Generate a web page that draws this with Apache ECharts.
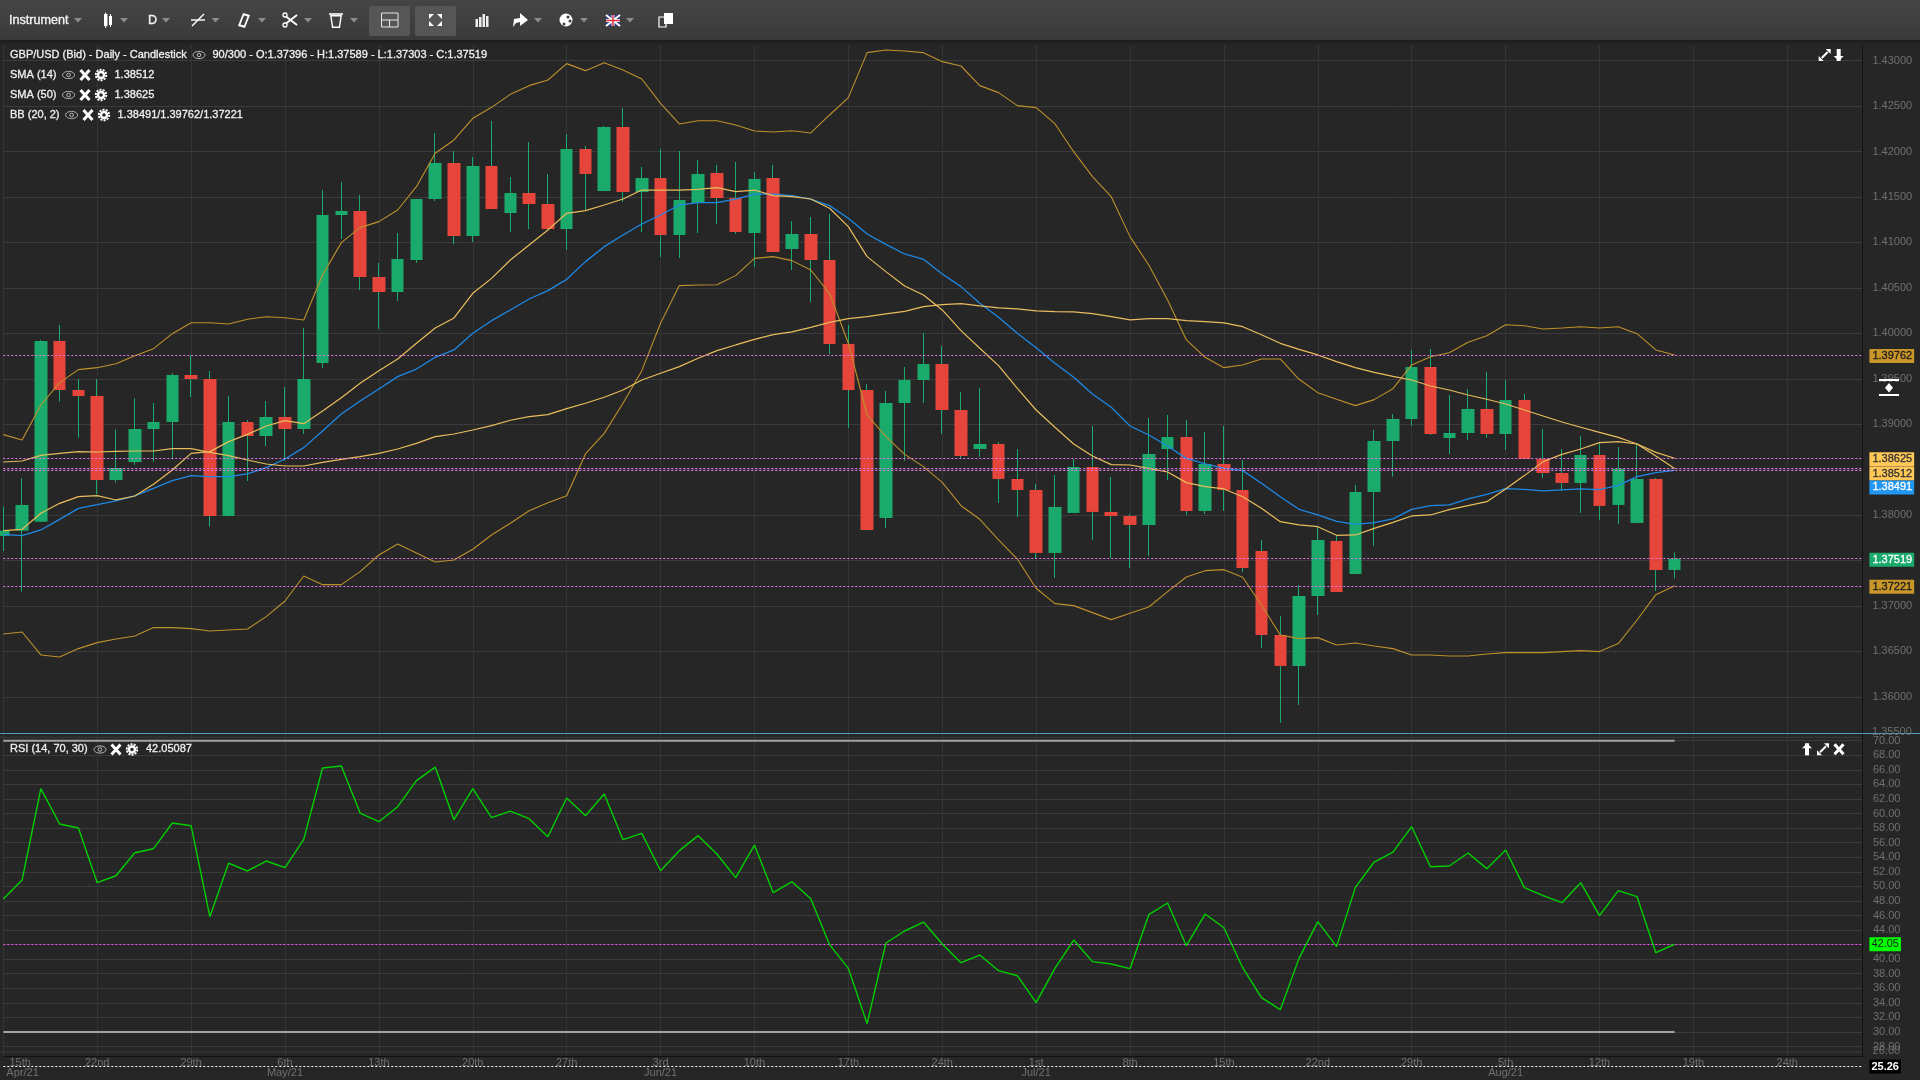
<!DOCTYPE html>
<html><head><meta charset="utf-8">
<style>html,body{margin:0;padding:0;background:#262626;overflow:hidden}#c{width:1920px;height:1080px}</style>
<script src="https://cdn.jsdelivr.net/npm/echarts@6/dist/echarts.min.js"></script>
</head><body><div id="c"></div>
<script>
const opens=[1.37770,1.37828,1.37927,1.39916,1.39376,1.39310,1.38386,1.38584,1.38947,1.39024,1.39541,1.39497,1.37990,1.39024,1.38870,1.39079,1.38947,1.39674,1.41302,1.41346,1.40620,1.40455,1.40807,1.41478,1.41875,1.41071,1.41842,1.41324,1.41544,1.41423,1.41148,1.42029,1.41566,1.42271,1.41555,1.41709,1.41082,1.41434,1.41765,1.41489,1.41104,1.41709,1.40928,1.41093,1.40807,1.39883,1.39376,1.37968,1.39233,1.39486,1.39662,1.39156,1.38727,1.38782,1.38397,1.38276,1.37583,1.38023,1.38529,1.38034,1.37990,1.37891,1.38727,1.38859,1.38045,1.38562,1.38276,1.37604,1.36680,1.36339,1.37109,1.37715,1.37351,1.38254,1.38815,1.39057,1.39629,1.38848,1.38903,1.39167,1.38892,1.39266,1.38617,1.38463,1.38353,1.38661,1.38111,1.37913,1.38397,1.37396];
const closes=[1.37828,1.38111,1.39916,1.39376,1.39310,1.38386,1.38518,1.38947,1.39024,1.39541,1.39497,1.37990,1.39024,1.38870,1.39079,1.38947,1.39497,1.41302,1.41346,1.40620,1.40455,1.40818,1.41478,1.41875,1.41071,1.41842,1.41368,1.41544,1.41423,1.41148,1.42029,1.41754,1.42271,1.41555,1.41709,1.41082,1.41467,1.41754,1.41489,1.41115,1.41699,1.40895,1.41093,1.40807,1.39883,1.39376,1.37836,1.39233,1.39486,1.39662,1.39156,1.38650,1.38782,1.38397,1.38276,1.37583,1.38089,1.38529,1.38034,1.37990,1.37891,1.38672,1.38859,1.38045,1.38562,1.38276,1.37417,1.36680,1.36339,1.37109,1.37726,1.37153,1.38254,1.38815,1.39057,1.39629,1.38892,1.38903,1.39167,1.38892,1.39266,1.38617,1.38463,1.38353,1.38661,1.38100,1.38507,1.38397,1.37395,1.37519];
const highs=[1.38092,1.38404,1.39927,1.40092,1.39497,1.39497,1.38943,1.39285,1.39233,1.39560,1.39762,1.39585,1.39310,1.39046,1.39255,1.39409,1.40059,1.41577,1.41666,1.41522,1.40774,1.41104,1.41478,1.42205,1.42007,1.41941,1.42337,1.41720,1.42106,1.41754,1.42194,1.42062,1.42282,1.42480,1.41831,1.42029,1.42007,1.41908,1.41853,1.41886,1.41776,1.41853,1.41236,1.41280,1.41313,1.40092,1.39442,1.39365,1.39629,1.40004,1.39861,1.39354,1.39398,1.38804,1.38727,1.38342,1.38441,1.38617,1.38980,1.38419,1.38012,1.39068,1.39101,1.39046,1.38914,1.38980,1.38606,1.37726,1.36889,1.37230,1.37869,1.37781,1.38331,1.38936,1.39112,1.39817,1.39828,1.39321,1.39387,1.39574,1.39486,1.39332,1.38947,1.38727,1.38870,1.38793,1.38749,1.38793,1.38408,1.37589];
const lows=[1.37604,1.37157,1.37924,1.39248,1.38852,1.38228,1.38357,1.38551,1.38588,1.38613,1.39299,1.37872,1.37985,1.38375,1.38760,1.38595,1.38892,1.39618,1.41038,1.40477,1.40048,1.40356,1.40774,1.41456,1.40983,1.41005,1.41368,1.41115,1.41148,1.41137,1.40917,1.41357,1.41566,1.41445,1.41115,1.40840,1.40829,1.41104,1.41203,1.41093,1.40730,1.40895,1.40697,1.40345,1.39773,1.38958,1.37830,1.37858,1.38595,1.39233,1.38892,1.38617,1.38639,1.38133,1.37979,1.37516,1.37307,1.38020,1.37726,1.37527,1.37417,1.37549,1.38386,1.38001,1.38012,1.38045,1.37373,1.36537,1.35712,1.35910,1.36900,1.37150,1.37348,1.37660,1.38423,1.38980,1.38881,1.38672,1.38826,1.38848,1.38716,1.38614,1.38408,1.38265,1.38023,1.37946,1.37902,1.37910,1.37164,1.37303];
const bbUpper=[1.38885,1.38826,1.39211,1.39457,1.39600,1.39622,1.39666,1.39754,1.39831,1.39996,1.40117,1.40117,1.40103,1.40154,1.40183,1.40172,1.40147,1.40642,1.40998,1.41163,1.41229,1.41357,1.41614,1.41981,1.42128,1.42366,1.42487,1.42630,1.42726,1.42788,1.42968,1.42891,1.42979,1.42898,1.42799,1.42531,1.42304,1.42340,1.42340,1.42293,1.42227,1.42216,1.42230,1.42205,1.42403,1.42594,1.43089,1.43118,1.43107,1.43089,1.42990,1.42942,1.42726,1.42649,1.42506,1.42484,1.42307,1.41999,1.41724,1.41504,1.41064,1.40752,1.40367,1.39927,1.39736,1.39622,1.39652,1.39718,1.39718,1.39494,1.39347,1.39274,1.39204,1.39270,1.39391,1.39652,1.39743,1.39787,1.39901,1.39974,1.40095,1.40084,1.40048,1.40059,1.40073,1.40059,1.40073,1.39996,1.39817,1.39762];
const bbLower=[1.36691,1.36713,1.36460,1.36438,1.36530,1.36596,1.36636,1.36669,1.36761,1.36761,1.36750,1.36724,1.36735,1.36746,1.36882,1.37054,1.37329,1.37234,1.37234,1.37377,1.37560,1.37682,1.37583,1.37483,1.37505,1.37623,1.37781,1.37909,1.38048,1.38136,1.38213,1.38672,1.38899,1.39230,1.39589,1.40110,1.40525,1.40532,1.40535,1.40635,1.40825,1.40844,1.40800,1.40697,1.40440,1.39890,1.39101,1.38863,1.38668,1.38533,1.38360,1.38103,1.37953,1.37726,1.37516,1.37194,1.37025,1.37003,1.36926,1.36849,1.36919,1.36988,1.37157,1.37318,1.37388,1.37399,1.37315,1.37010,1.36680,1.36640,1.36651,1.36570,1.36592,1.36559,1.36530,1.36460,1.36460,1.36449,1.36449,1.36471,1.36486,1.36486,1.36486,1.36497,1.36508,1.36497,1.36585,1.36845,1.37124,1.37221];
const bbMid=[1.37788,1.37773,1.37836,1.37953,1.38074,1.38114,1.38155,1.38210,1.38294,1.38379,1.38434,1.38423,1.38423,1.38452,1.38522,1.38617,1.38742,1.38925,1.39112,1.39255,1.39387,1.39523,1.39607,1.39736,1.39817,1.40000,1.40139,1.40257,1.40378,1.40470,1.40594,1.40789,1.40954,1.41082,1.41203,1.41302,1.41412,1.41438,1.41438,1.41478,1.41533,1.41533,1.41515,1.41478,1.41405,1.41266,1.41093,1.40979,1.40873,1.40814,1.40653,1.40514,1.40330,1.40176,1.40000,1.39842,1.39670,1.39516,1.39332,1.39186,1.38980,1.38881,1.38760,1.38624,1.38562,1.38514,1.38489,1.38349,1.38202,1.38063,1.38001,1.37931,1.37898,1.37916,1.37957,1.38063,1.38103,1.38111,1.38177,1.38228,1.38291,1.38283,1.38265,1.38276,1.38287,1.38280,1.38327,1.38423,1.38467,1.38491];
const sma14=[1.37828,1.37843,1.38019,1.38129,1.38202,1.38213,1.38166,1.38210,1.38338,1.38496,1.38679,1.38698,1.38808,1.38888,1.38980,1.39039,1.39006,1.39145,1.39292,1.39450,1.39589,1.39718,1.39890,1.40059,1.40169,1.40440,1.40605,1.40807,1.40972,1.41137,1.41321,1.41350,1.41412,1.41478,1.41577,1.41577,1.41577,1.41585,1.41603,1.41559,1.41577,1.41515,1.41504,1.41478,1.41376,1.41174,1.40844,1.40679,1.40521,1.40422,1.40257,1.40029,1.39835,1.39644,1.39395,1.39156,1.38966,1.38782,1.38650,1.38555,1.38551,1.38514,1.38474,1.38357,1.38313,1.38287,1.38202,1.38074,1.37927,1.37891,1.37872,1.37777,1.37781,1.37854,1.37920,1.37990,1.38001,1.38059,1.38103,1.38147,1.38287,1.38434,1.38588,1.38668,1.38727,1.38797,1.38808,1.38782,1.38650,1.38512];
const sma50=[1.38584,1.38595,1.38657,1.38679,1.38698,1.38694,1.38701,1.38705,1.38705,1.38731,1.38731,1.38690,1.38654,1.38606,1.38562,1.38540,1.38540,1.38580,1.38613,1.38643,1.38679,1.38727,1.38789,1.38863,1.38892,1.38936,1.38984,1.39043,1.39083,1.39105,1.39171,1.39230,1.39296,1.39376,1.39486,1.39560,1.39633,1.39725,1.39809,1.39872,1.39934,1.39985,1.40015,1.40066,1.40121,1.40161,1.40183,1.40213,1.40242,1.40293,1.40315,1.40326,1.40301,1.40279,1.40268,1.40246,1.40238,1.40235,1.40216,1.40183,1.40147,1.40161,1.40161,1.40139,1.40128,1.40114,1.40073,1.39985,1.39890,1.39824,1.39762,1.39688,1.39622,1.39571,1.39527,1.39486,1.39420,1.39376,1.39321,1.39274,1.39222,1.39156,1.39090,1.39024,1.38966,1.38910,1.38855,1.38782,1.38690,1.38625];
const rsi=[48.26,50.87,63.41,58.56,58.01,50.50,51.46,54.62,55.17,58.70,58.33,45.84,53.20,52.11,53.48,52.56,56.45,66.25,66.52,60.07,58.88,60.94,64.51,66.38,59.15,63.41,59.43,60.34,59.29,56.82,62.13,59.70,62.68,56.41,57.28,52.15,54.90,56.96,54.44,51.19,55.67,49.13,50.64,48.31,41.99,38.74,31.14,42.22,43.87,45.10,42.08,39.52,40.57,38.42,37.73,34.03,38.74,42.63,39.66,39.34,38.70,46.11,47.71,41.85,46.20,44.32,38.83,34.71,33.07,40.11,45.15,41.72,49.86,53.34,54.71,58.19,52.70,52.79,54.58,52.43,54.99,49.82,48.72,47.76,50.50,45.97,49.41,48.58,40.89,42.05];
const tickLabels=['15th','22nd','29th','6th','13th','20th','27th','3rd','10th','17th','24th','1st','8th','15th','22nd','29th','5th','12th','19th','24th'];
const monthLabels=[' Apr/21','','','May/21','','','','Jun/21','','','','Jul/21','','','','','Aug/21','','',''];
const priceLevels=[1.39762,1.38625,1.38512,1.38491,1.37519,1.37221];
const rsiLevel=42.05, crossLevel=25.26, rsiBounds=[70,30];
const slotCount=100;

const FONT='"Liberation Sans",Arial,sans-serif';
const slots=Array.from({length:slotCount},(_,i)=>String(i));
const BG='#262626',GRID_H='#3b3b3b',GRID_V='#343434',GREEN='#1aaa6b',RED='#e5453b',GOLD='#c9962a',LIGHT='#ffc857',BLUE='#2196f3',MAG='#e477ee',TICK='#707070';
const L=3.3,W=1859.1;
const P_TOP=15.3,P_H=726.9,R_TOP=740.7,R_H=335;

const wicks=opens.map((o,i)=>[o,closes[i],lows[i],highs[i]]);
const bodies=opens.map((o,i)=>[o,closes[i],Math.min(o,closes[i]),Math.max(o,closes[i])]);
const priceTicks=Array.from({length:17});

function xLabel(v){const i=+v,n=i/5;if(!Number.isInteger(n)||!tickLabels[n])return '';let t=(i===0?'  ':'')+tickLabels[n];return monthLabels[n]?t+'\n'+monthLabels[n]:t;}
const line=(name,data,color,width,z)=>({name,type:'line',data,xAxisIndex:0,yAxisIndex:0,showSymbol:false,symbol:'none',silent:true,z:z||4,lineStyle:{color,width}});
const lvlStyle=(bg,fg,offY)=>({show:true,position:'end',distance:7,backgroundColor:bg,color:fg,padding:[2,2,1,3],fontSize:11,fontFamily:FONT,textBorderColor:fg,textBorderWidth:0.3,offset:[0,offY||0],formatter:p=>(+p.value).toFixed(5)});
const priceStyles=[[GOLD,'#1b1b1b',1],[LIGHT,'#333',1],[LIGHT,'#333',5],[BLUE,'#fff',17],[GREEN,'#fff',1],[GOLD,'#1b1b1b',1]];

/* chrome */
const els=[];
const Z=100;
function rect(x,y,w,h,fill,z,extra){els.push({type:'rect',z:z||Z,silent:true,shape:Object.assign({x,y,width:w,height:h},extra||{}),style:{fill}});}
function seg(x1,y1,x2,y2,stroke,lw,z){els.push({type:'line',z:z||Z,silent:true,shape:{x1,y1,x2,y2},style:{stroke,lineWidth:lw||1}});}
function poly(pts,fill,z){els.push({type:'polygon',z:z||Z,silent:true,shape:{points:pts},style:{fill}});}
function outline(x,y,w,h,stroke,lw){els.push({type:'rect',z:Z,silent:true,shape:{x,y,width:w,height:h},style:{fill:'none',stroke,lineWidth:lw||1.5}});}
function txt(x,y,t,fill,size,z,heavy){els.push({type:'text',z:z||Z,silent:true,x,y,style:{text:t,fill,font:(size||11)+'px '+FONT,verticalAlign:'middle',align:'left',stroke:heavy?fill:null,lineWidth:heavy||0}});}
function circ(cx,cy,r,fill,stroke,lw,dash){els.push({type:'circle',z:Z,silent:true,shape:{cx,cy,r},style:{fill:fill||'none',stroke:stroke||null,lineWidth:lw||1,lineDash:dash||null}});}
function tri(cx){poly([[cx-4,18],[cx+4,18],[cx,22.5]],'#8c8c8c');}
function eye(cx,cy){els.push({type:'ellipse',z:Z,silent:true,shape:{cx,cy,rx:6,ry:3.6},style:{fill:'none',stroke:'#bdbdbd',lineWidth:1}});circ(cx,cy,1.8,'none','#bdbdbd',1);}
function cross(cx,cy){seg(cx-4.5,cy-5,cx+4.5,cy+5,'#fff',3);seg(cx+4.5,cy-5,cx-4.5,cy+5,'#fff',3);}
function gear(cx,cy){circ(cx,cy,5.2,'none','#fff',2,[2,1.2]);circ(cx,cy,3,'none','#fff',2.4);}
function expand(cx,cy){poly([[cx+1,cy-6],[cx+6,cy-6],[cx+6,cy-1]],'#fff');poly([[cx-1,cy+6],[cx-6,cy+6],[cx-6,cy+1]],'#fff');seg(cx-3,cy+3,cx+3,cy-3,'#fff',2);}
function arrow(cx,cy,up){const s=up?-1:1;poly([[cx-5,cy+s],[cx+5,cy+s],[cx,cy+6*s]],'#fff');rect(cx-2,cy-6,4,12,'#fff');}

/* bottom mask below the x axis line */
rect(0,1056.8,1920,24,BG,1);
/* pane separators */
seg(0,737.3,1862,737.3,GRID_H,1,1);
seg(0,1052,1862,1052,GRID_H,1,1);
seg(0,733.5,1920,733.5,'#4a9fc0',1.2,5);
/* toolbar */
els.push({type:'rect',z:Z,silent:true,shape:{x:0,y:0,width:1920,height:40},style:{fill:{type:'linear',x:0,y:0,x2:0,y2:1,colorStops:[{offset:0,color:'#454545'},{offset:1,color:'#3a3a3a'}]}}});
els.push({type:'rect',z:Z,silent:true,shape:{x:0,y:40,width:1920,height:5},style:{fill:{type:'linear',x:0,y:0,x2:0,y2:1,colorStops:[{offset:0,color:'#1c1c1c'},{offset:1,color:'#262626'}]}}});
txt(9,20.6,'Instrument','#f2f2f2',12.6,Z,0.35);tri(78);
rect(104,14,3.5,12,'#fff');seg(105.7,12.5,105.7,28,'#fff',1);rect(109,16,3,9,'#fff');seg(110.5,14,110.5,27,'#fff',1);tri(124);
txt(148,20.6,'D','#f2f2f2',12.6,Z,0.35);tri(166);
seg(191,20,205,20,'#fff',1.4);seg(192,26,204,14,'#fff',1.4);tri(215.5);
poly([[243,13],[250,15],[245,28],[238,26]],'#fff');poly([[244,15.5],[247.5,16.5],[244,25.5],[240.5,24.5]],'#404040');tri(262);
seg(284,15,297,25,'#fff',1.8);seg(284,25,297,15,'#fff',1.8);circ(285,15,2,'#404040','#fff',1.3);circ(285,25,2,'#404040','#fff',1.3);tri(308);
seg(329,14,343,14,'#fff',1.6);poly([[330,15],[342,15],[340,28],[332,28]],'#fff');poly([[331.6,16.5],[340.4,16.5],[338.8,26.5],[333.2,26.5]],'#404040');tri(354);
rect(369,6,41,30,'#565656',Z,{r:2});outline(381.5,13,16.5,14,'#e8e8e8',1);seg(381.5,20,398,20,'#e8e8e8',1);seg(389.5,20,389.5,27,'#e8e8e8',1);
rect(415,6,41,30,'#565656',Z,{r:2});
poly([[429,14],[434,14],[429,19]],'#fff');poly([[442,14],[437,14],[442,19]],'#fff');poly([[429,26],[434,26],[429,21]],'#fff');poly([[442,26],[437,26],[442,21]],'#fff');
rect(475.5,19,2.5,8,'#eee');rect(479,17,2.5,10,'#eee');rect(482.5,14,2.5,13,'#eee');rect(486,16,2.5,11,'#eee');
poly([[513,27],[514,19],[520,18],[520,13],[528,20],[520,26],[520,22],[516,23]],'#fff');tri(538);
circ(566,20,6.5,'#fff');circ(568,17,1.5,'#404040');circ(570,21,1.5,'#404040');circ(564,24,1.5,'#404040');tri(584);
rect(606,15,14,11,'#2a3f8f');seg(606,15,620,26,'#fff',2);seg(620,15,606,26,'#fff',2);seg(613,15,613,26,'#fff',3);seg(606,20.5,620,20.5,'#fff',3);seg(613,15,613,26,'#e0303a',1.5);seg(606,20.5,620,20.5,'#e0303a',1.5);tri(630);
rect(662,17,7,10,'#404040');outline(659,17,7,10,'#fff',1.2);rect(664,13,9,11,'#fff');
/* legend */
const W1='#f0f0f0',HV=0.3;
txt(10,54.7,'GBP/USD (Bid) - Daily - Candlestick',W1,11,50,HV);
eye(199,55);
txt(212.5,54.7,'90/300 - O:1.37396 - H:1.37589 - L:1.37303 - C:1.37519',W1,11,50,HV);
[[75,'SMA (14)','1.38512',0],[95,'SMA (50)','1.38625',0],[115,'BB (20, 2)','1.38491/1.39762/1.37221',3]].forEach(r=>{
  txt(10,r[0],r[1],W1,11,50,HV);eye(68.6+r[3],r[0]);cross(85+r[3],r[0]);gear(101+r[3],r[0]);txt(114.5+r[3],r[0],r[2],W1,11,50,HV);
});
txt(10,749.2,'RSI (14, 70, 30)',W1,11,50,HV);eye(100,749.5);cross(116,749.5);gear(132,749.5);txt(146,749.2,'42.05087',W1,11,50,HV);
/* pane icons */
expand(1824.7,55);arrow(1838.7,55,false);
arrow(1807,749.3,true);expand(1823,749.3);cross(1839,749.3);
seg(1879,380,1899,380,'#fff',2);seg(1879,395,1899,395,'#fff',2);poly([[1889,383],[1893,387.7],[1889,392.4],[1885,387.7]],'#fff');
/* squeezed tick labels at the pane edges */
txt(1872,731.5,'1.35500',TICK,11,5);
txt(1872.6,1050.7,'26.00',TICK,11,5);

const option={
  backgroundColor:BG,animation:false,tooltip:{show:false},legend:{show:false},
  grid:[{left:L,width:W,top:P_TOP,height:P_H,containLabel:false},{left:L,width:W,top:R_TOP,height:R_H,containLabel:false}],
  xAxis:[
    {type:'category',gridIndex:0,data:slots,boundaryGap:false,axisLine:{show:false},axisTick:{show:false},axisLabel:{show:false},splitLine:{show:true,interval:4,lineStyle:{color:GRID_V,width:1}}},
    {type:'category',gridIndex:1,data:slots,boundaryGap:false,axisLine:{show:false},axisTick:{show:false},axisLabel:{show:false},splitLine:{show:true,interval:4,lineStyle:{color:GRID_V,width:1}}},
    {type:'category',gridIndex:1,data:slots,boundaryGap:false,position:'bottom',offset:-19.4,z:3,axisLine:{show:true,onZero:false,lineStyle:{color:'#111',width:1}},axisTick:{show:false},splitLine:{show:false},
      axisLabel:{show:true,interval:4,margin:1,color:TICK,fontSize:11,fontFamily:FONT,lineHeight:10.5,verticalAlign:'top',alignMinLabel:'left',hideOverlap:false,formatter:xLabel}}
  ],
  yAxis:[
    {type:'value',gridIndex:0,position:'right',min:1.355,max:1.435,interval:0.005,scale:true,axisLine:{show:true,lineStyle:{color:'#111'}},axisTick:{show:false},
      splitLine:{show:true,lineStyle:{color:priceTicks.map((_,i)=>i===0?'transparent':GRID_H),width:1}},
      axisLabel:{show:true,margin:10,color:TICK,fontSize:11,fontFamily:FONT,padding:[0,0,2,0],hideOverlap:false,formatter:v=>(v<1.3575||v>1.4325)?'':v.toFixed(5)}},
    {type:'value',gridIndex:1,position:'right',min:24,max:70,interval:2,axisLine:{show:true,lineStyle:{color:'#111'}},axisTick:{show:false},
      splitLine:{show:true,lineStyle:{color:GRID_H,width:1}},
      axisLabel:{show:true,margin:10.5,color:TICK,fontSize:11,fontFamily:FONT,padding:[0,0,2,0],hideOverlap:false,formatter:v=>v<27?'':v.toFixed(2)}}
  ],
  series:[
    {name:'wicks',type:'candlestick',data:wicks,xAxisIndex:0,yAxisIndex:0,barWidth:1,clip:false,silent:true,z:2,itemStyle:{color:GREEN,color0:GREEN,borderColor:GREEN,borderColor0:GREEN,borderWidth:1}},
    {name:'bodies',type:'candlestick',data:bodies,xAxisIndex:0,yAxisIndex:0,barWidth:13,clip:false,silent:true,z:3,itemStyle:{color:GREEN,color0:RED,borderColor:GREEN,borderColor0:RED,borderWidth:0}},
    line('BB upper',bbUpper,'#be902c',1.1),
    line('BB lower',bbLower,'#be902c',1.1),
    line('BB mid',bbMid,'#1e88e5',1.3),
    line('SMA 14',sma14,'#e9bd5c',1.2),
    line('SMA 50',sma50,'#e9bd5c',1.2),
    {name:'levels',type:'line',data:closes,xAxisIndex:0,yAxisIndex:0,showSymbol:false,symbol:'none',silent:true,z:10,lineStyle:{opacity:0},
      markLine:{symbol:'none',silent:true,animation:false,precision:5,lineStyle:{color:MAG,type:[2,2],width:1},
        data:priceLevels.map((v,i)=>({yAxis:v,label:lvlStyle(priceStyles[i][0],priceStyles[i][1],priceStyles[i][2])}))}},
    {name:'RSI 70',type:'line',data:rsi.map(()=>rsiBounds[0]),xAxisIndex:1,yAxisIndex:1,showSymbol:false,symbol:'none',silent:true,clip:false,z:3,lineStyle:{color:'#a3a3a3',width:2}},
    {name:'RSI 30',type:'line',data:rsi.map(()=>rsiBounds[1]),xAxisIndex:1,yAxisIndex:1,showSymbol:false,symbol:'none',silent:true,z:3,lineStyle:{color:'#a3a3a3',width:2}},
    {name:'RSI',type:'line',data:rsi,xAxisIndex:1,yAxisIndex:1,showSymbol:false,symbol:'none',silent:true,z:6,lineStyle:{color:'#00d000',width:1.4},
      markLine:{symbol:'none',silent:true,animation:false,precision:2,data:[
        {yAxis:rsiLevel,lineStyle:{color:'#f050f0',type:[2,2],width:1},label:{show:true,position:'end',distance:7,backgroundColor:'#00ff00',color:'#1b1b1b',padding:[2,2,1,2],fontSize:11,fontFamily:FONT,formatter:p=>(+p.value).toFixed(2)}},
        {yAxis:crossLevel,lineStyle:{color:'#ffffff',type:[2,2],width:1},label:{show:true,position:'end',distance:7,backgroundColor:'#000',color:'#fff',padding:[2,2,1,2],fontSize:11,fontFamily:FONT,fontWeight:'bold',formatter:p=>(+p.value).toFixed(2)}}
      ]}}
  ],
  graphic:{elements:els}
};
const chart=echarts.init(document.getElementById('c'),null,{renderer:'canvas',width:1920,height:1080});
chart.setOption(option);
</script></body></html>
